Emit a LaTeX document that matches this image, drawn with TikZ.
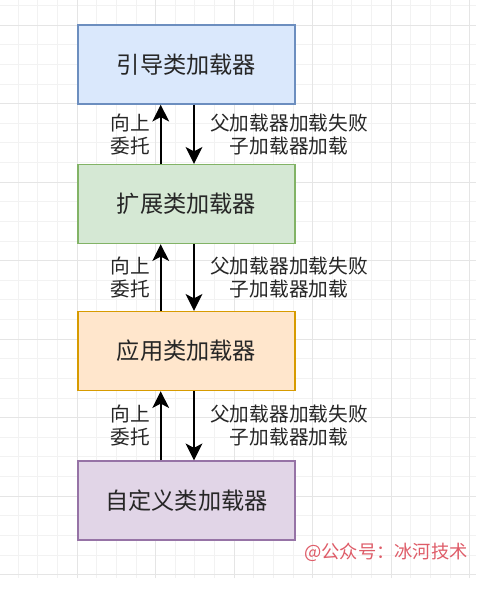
\documentclass[tikz,border=0pt]{standalone}
\usepackage{fontspec}
\setmainfont{Noto Sans CJK SC}
\usepackage{xcolor}
\usetikzlibrary{arrows.meta, calc}
\definecolor{bootFill}{HTML}{DAE8FC}\definecolor{bootLine}{HTML}{6C8EBF}
\definecolor{extFill}{HTML}{D5E8D4}\definecolor{extLine}{HTML}{82B366}
\definecolor{appFill}{HTML}{FFE6CC}\definecolor{appLine}{HTML}{D79B00}
\definecolor{custFill}{HTML}{E1D5E7}\definecolor{custLine}{HTML}{9673A6}
\definecolor{wmRed}{RGB}{222,92,104}
\begin{document}
\begin{tikzpicture}[>={Stealth[length=4.2mm, width=4.2mm, inset=1.1mm]},
  loader/.style={draw, line width=1pt, minimum width=5.425cm, minimum height=1.975cm, text=black!85, font=\fontsize{16.5pt}{20pt}\selectfont},
  hint/.style={align=center, text=black!85, font=\fontsize{14pt}{16.4pt}\selectfont},
  flow/.style={->, line width=1.2pt, black}]
  \useasboundingbox (0,0) rectangle (12.05,-14.875);
  % background grid
  \begin{scope}[shift={(1.925,-0.625)}]
    \draw[black!5, line width=0.5pt, step=0.490625cm] (-1.925,0.625) grid (9.975,-13.825);
    \draw[black!10, line width=0.6pt, step=1.9625cm] (-1.925,0.625) grid (9.975,-13.825);
  \end{scope}
  % loaders
  \node[loader, fill=bootFill, draw=bootLine] (boot) at (4.6625,-1.6125) {引导类加载器};
  \node[loader, fill=extFill, draw=extLine] (ext) at (4.6625,-5.1) {扩展类加载器};
  \node[loader, fill=appFill, draw=appLine] (app) at (4.6625,-8.775) {应用类加载器};
  \node[loader, fill=custFill, draw=custLine] (cust) at (4.6625,-12.5125) {自定义类加载器};
  % delegation between neighbours
  \foreach \parent/\child in {boot/ext, ext/app, app/cust} {
    \draw[flow] ($(\child.north)+(-0.645,0)$) -- ($(\parent.south)+(-0.645,0)$);
    \draw[flow] ($(\parent.south)+(0.1875,0)$) -- ($(\child.north)+(0.1875,0)$);
    \node[hint] (up-\child) at ($($(\parent.south)!0.5!(\child.north)$)+(-1.4125,0)$) {向上\\委托};
    \node[hint] (down-\child) at ($($(\parent.south)!0.5!(\child.north)$)+(2.5625,0)$) {父加载器加载失败\\子加载器加载};
  }
  \node[text=wmRed, font=\fontsize{13pt}{15pt}\selectfont] (wm) at (9.65,-13.8) {@公众号：冰河技术};
\end{tikzpicture}
\end{document}
